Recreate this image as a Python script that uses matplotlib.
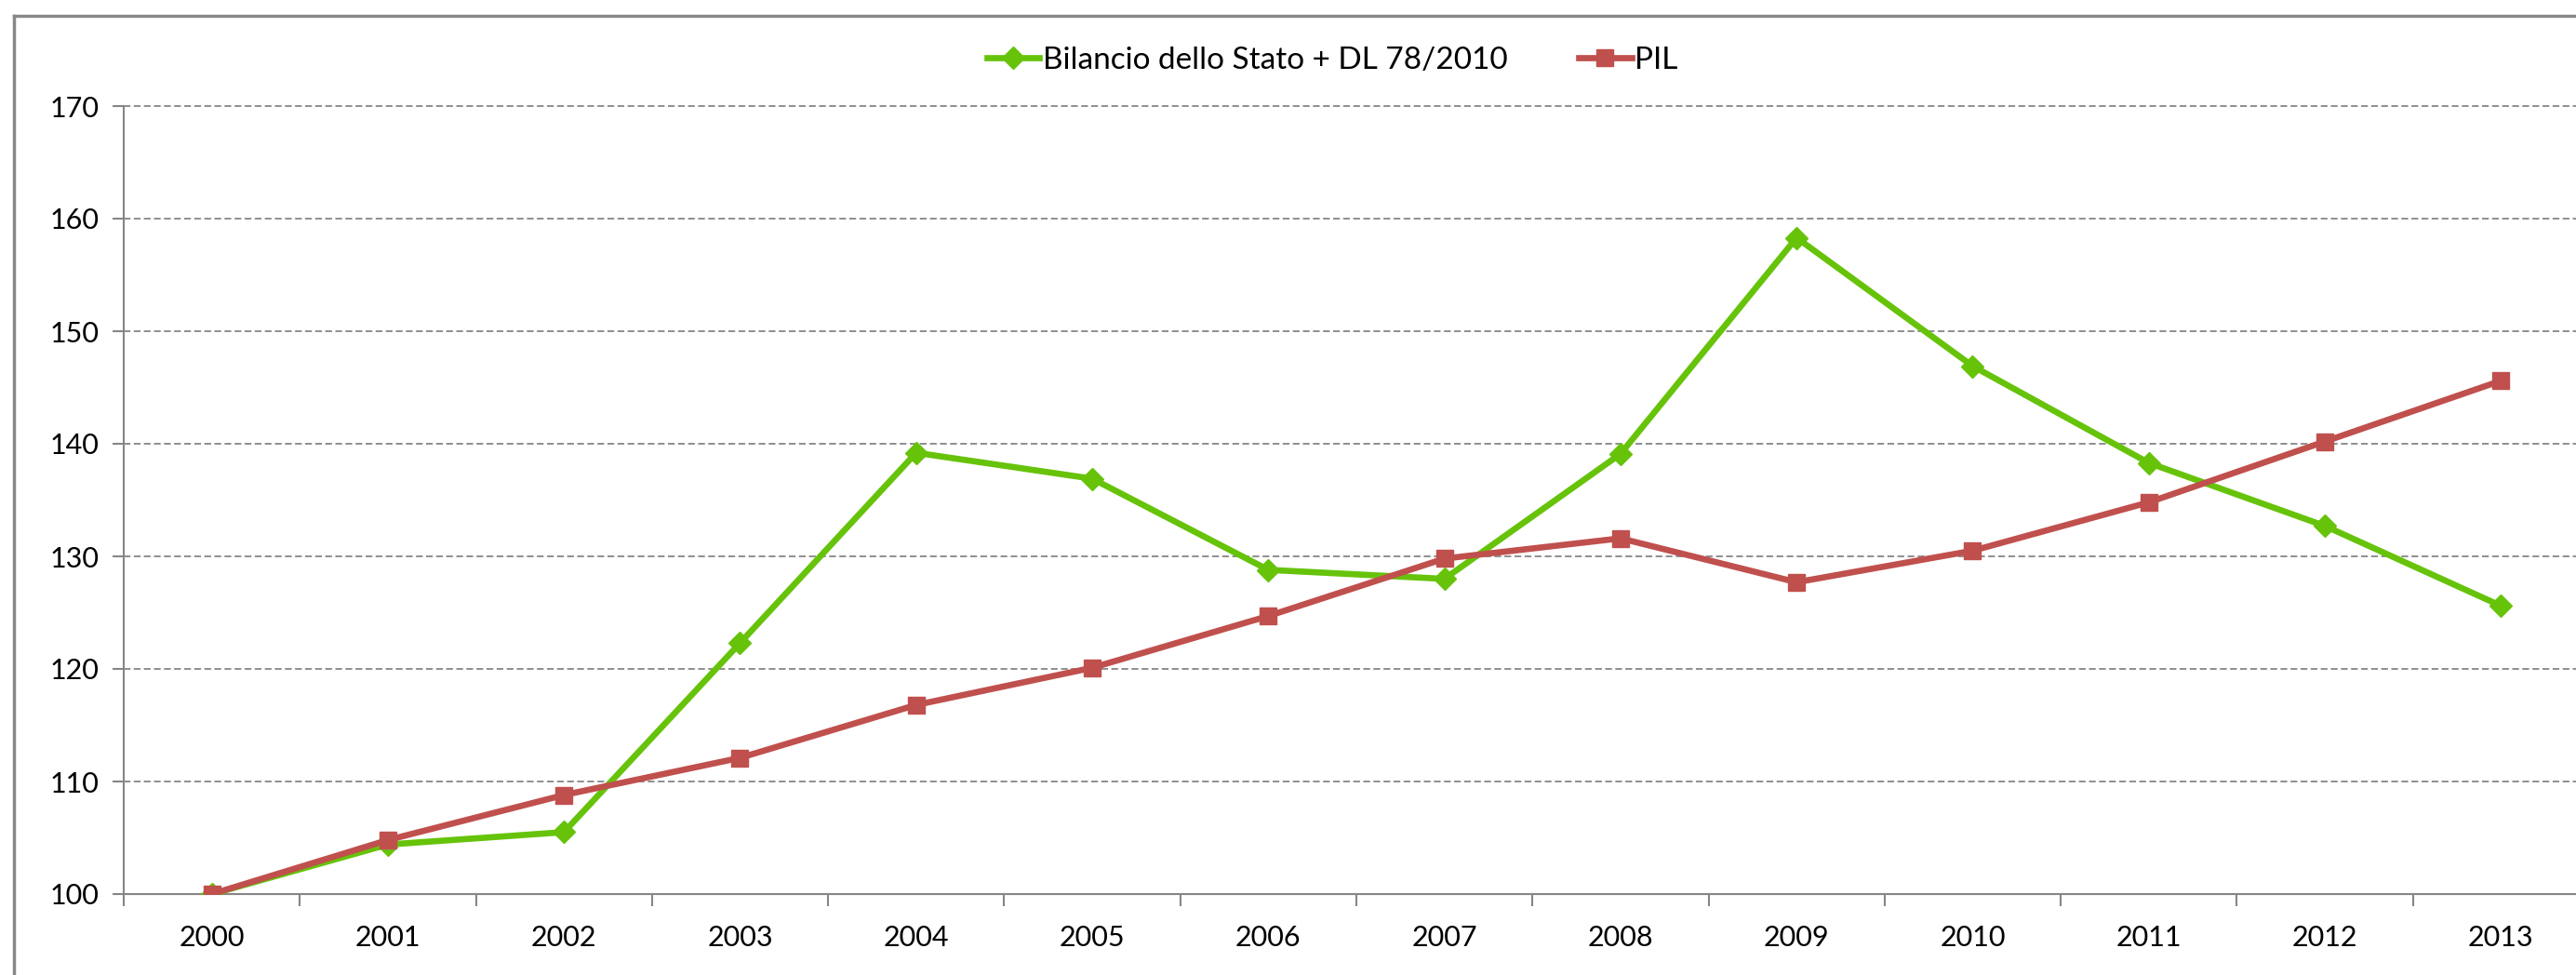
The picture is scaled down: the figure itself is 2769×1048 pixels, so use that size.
import matplotlib
matplotlib.use("Agg")
import matplotlib.pyplot as plt
from matplotlib.lines import Line2D

years = ["2000", "2001", "2002", "2003", "2004", "2005", "2006",
         "2007", "2008", "2009", "2010", "2011", "2012", "2013"]
bilancio = [100.0, 104.4, 105.5, 122.3, 139.2, 136.9, 128.8,
            128.0, 139.1, 158.3, 146.9, 138.3, 132.7, 125.6]
pil = [100.0, 104.8, 108.8, 112.1, 116.8, 120.1, 124.7,
       129.8, 131.6, 127.7, 130.5, 134.8, 140.2, 145.6]
label_bil = "Bilancio dello Stato + DL 78/2010"
label_pil = "PIL"
yticks = [100, 110, 120, 130, 140, 150, 160, 170]

plt.rcParams['font.family'] = ['Lato', 'DejaVu Sans']

W, H = 2769, 1048
fig = plt.figure(figsize=(W / 100, H / 100), dpi=100)
ax = fig.add_axes([133 / W, (H - 961) / H, 2650 / W, (961 - 114) / H])

green = "#66C30A"
red = "#C0504D"
x = list(range(len(years)))
ax.plot(x, bilancio, color=green, lw=4.8, marker="D", ms=12.5,
        label=label_bil, zorder=3)
ax.plot(x, pil, color=red, lw=4.8, marker="s", ms=13.5,
        label=label_pil, zorder=4)

ax.set_xlim(-0.5, len(years) - 0.5)
ax.set_ylim(100, 170)
ax.set_yticks(yticks)
ax.set_yticklabels([str(v) for v in yticks], fontsize=22)
ax.set_xticks(x)
ax.set_xticklabels(years, fontsize=22)
ax.tick_params(axis="x", length=0, pad=24)
ax.set_xticks([i + 0.5 for i in range(-1, len(years))], minor=True)
ax.tick_params(axis="x", which="minor", length=9, width=1.5, color="#868686",
               direction="out")
ax.tick_params(axis="y", length=9, width=1.5, color="#868686", pad=10)

ax.grid(axis="y", color="#868686", linestyle=(0, (4, 2)), lw=1.3, zorder=0)
for gl in ax.get_ygridlines():
    gl.set_clip_on(False)
ax.set_axisbelow(True)
for s in ["top", "right"]:
    ax.spines[s].set_visible(False)
for s in ["left", "bottom"]:
    ax.spines[s].set_color("#868686")
    ax.spines[s].set_linewidth(1.5)

leg = fig.legend(loc="center", bbox_to_anchor=(1432 / W, 1 - 65 / H),
                 ncol=2, frameon=False, fontsize=24, handlelength=1.7,
                 handletextpad=0.1, columnspacing=2.3)

# outer chart border
fig.add_artist(Line2D([15 / W, 15 / W], [1 - 17 / H, 0], transform=fig.transFigure,
                      color="#888888", lw=2.5))
fig.add_artist(Line2D([15 / W, 1], [1 - 17 / H, 1 - 17 / H], transform=fig.transFigure,
                      color="#888888", lw=2.5))

fig.savefig("out.png", dpi=100)
